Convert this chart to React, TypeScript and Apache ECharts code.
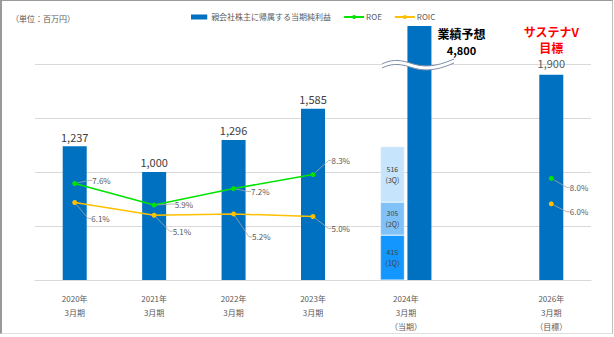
import React, { useEffect, useRef } from 'react';
import * as echarts from 'echarts';

// ---------- data ----------
const fiscalYears = ['2020年', '2021年', '2022年', '2023年', '2024年', '', '2026年'];
const periodSuffix = ['3月期', '3月期', '3月期', '3月期', '3月期', '', '3月期'];
const periodNotes = ['', '', '', '', '（当期）', '', '（目標）'];
const incomeName = '親会社株主に帰属する当期純利益';
const netIncome = [1237, 1000, 1296, 1585, null, null, 1900];
const forecastIncome = [null, null, null, null, 4800, null, null];
const quarterNames = ['1Q', '2Q', '3Q'];
const quarterTags = ['（1Q）', '(2Q)', '(3Q)'];
const q1Income = [null, null, null, null, 415, null, null];
const q2Income = [null, null, null, null, 305, null, null];
const q3Income = [null, null, null, null, 516, null, null];
const roe = [7.6, 5.9, 7.2, 8.3, null, null, 8.0];
const roic = [6.1, 5.1, 5.2, 5.0, null, null, 6.0];
const forecastTitle = '業績予想';
const targetTitle = ['サステナV', '目標'];
const unitNote = '（単位：百万円）';

const FONT = "'Noto Sans CJK JP', 'Noto Sans', sans-serif";
const BLUE = '#0070C0';
const QCOLORS = ['#1496FF', '#80C2F7', '#C6E5FC'];

const fmt = (v: number) => v.toLocaleString('en-US');
const m = (arr: (number | null)[]) => arr.map((v) => (v == null ? '-' : v));

let registered = false;
function registerShapes() {
  if (registered) return;
  registered = true;
  const fillD =
    'M0,6 C8,2 16,1 28,5 C40,9 52,10 72,1 L72,5 C52,14 40,13 28,9 C16,5 8,6 0,10 Z';
  const lineD =
    'M0,6 C8,2 16,1 28,5 C40,9 52,10 72,1 M0,10 C8,6 16,5 28,9 C40,13 52,14 72,5';
  echarts.graphic.registerShape('breakFill', echarts.graphic.extendPath(fillD, {}));
  echarts.graphic.registerShape('breakLines', echarts.graphic.extendPath(lineD, {}));
}

export default function App() {
  const ref = useRef<HTMLDivElement>(null);

  useEffect(() => {
    document.body.style.margin = '0';
    registerShapes();
    const chart = echarts.init(ref.current!, null, { renderer: 'svg' });

    const categories = fiscalYears.map((y, i) =>
      [y, periodSuffix[i], periodNotes[i]].filter((s) => s).join('\n')
    );
    const xData = categories.map((c, i) =>
      i === 4 ? { value: c, textStyle: { padding: [0, 0, 0, 27] } } : c
    );

    const roeOffsets = [
      [10, -3],
      [13, -1],
      [10, 3],
      [11, -14],
      [0, 0],
      [0, 0],
      [11, 9],
    ];
    const roicOffsets = [
      [9, 16],
      [11, 16],
      [11, 23],
      [11, 12],
      [0, 0],
      [0, 0],
      [11, 8],
    ];

    const pctLabel = {
      show: true,
      position: 'right',
      distance: 5,
      fontSize: 8,
      color: '#595959',
      fontFamily: FONT,
      formatter: (p: any) => `${Number(p.value).toFixed(1)}%`,
    };
    const labelLine = {
      show: true,
      length2: 3,
      lineStyle: { color: '#A6A6A6', width: 0.8 },
    };

    const quarterData = [q1Income, q2Income, q3Income];

    const option: any = {
      animation: false,
      textStyle: { fontFamily: FONT },
      title: {
        text: unitNote,
        left: 6,
        top: 9,
        textStyle: { fontSize: 8, fontWeight: 'normal', color: '#595959', fontFamily: FONT },
      },
      legend: {
        left: 186,
        top: 8,
        itemWidth: 20,
        itemHeight: 5,
        itemGap: 12,
        textStyle: { fontSize: 8, color: '#595959', fontFamily: FONT, padding: [0, 0, 0, -3] },
        data: [
          { name: incomeName, icon: 'path://M0,0H13V4H0Z' },
          { name: 'ROE' },
          { name: 'ROIC' },
        ],
      },
      grid: { left: 35, right: 23, top: 26, bottom: 57, containLabel: false },
      xAxis: [
        {
          type: 'category',
          data: xData,
          axisLine: { show: true, lineStyle: { color: '#D9D9D9' } },
          axisTick: { show: false },
          axisLabel: {
            margin: 11,
            fontSize: 8,
            lineHeight: 14,
            color: '#595959',
            fontFamily: FONT,
            interval: 0,
          },
        },
        {
          type: 'category',
          data: categories,
          show: false,
        },
      ],
      yAxis: [
        {
          type: 'value',
          min: 0,
          max: 2350,
          interval: 500,
          axisLabel: { show: false },
          axisLine: { show: false },
          axisTick: { show: false },
          splitLine: { show: true, showMaxLine: false, lineStyle: { color: '#D9D9D9', width: 1 } },
        },
        {
          type: 'value',
          min: 0,
          max: 20,
          show: false,
          splitLine: { show: false },
        },
      ],
      series: [
        {
          name: incomeName,
          type: 'bar',
          xAxisIndex: 0,
          yAxisIndex: 0,
          barWidth: 24,
          data: m(netIncome),
          itemStyle: { color: BLUE },
          label: {
            show: true,
            position: 'top',
            distance: 4,
            fontSize: 11,
            color: '#404040',
            fontFamily: FONT,
            formatter: (p: any) =>
              p.dataIndex === 6
                ? `{r|${targetTitle[0]}}\n{r|${targetTitle[1]}}\n{v|${fmt(p.value)}}`
                : fmt(p.value),
            rich: {
              r: { color: '#FF0000', fontWeight: 'bold', fontSize: 12, lineHeight: 16, fontFamily: FONT },
              v: { color: '#595959', fontSize: 11, lineHeight: 15, fontFamily: FONT },
            },
          },
          z: 2,
        },
        {
          name: 'spacer',
          type: 'bar',
          xAxisIndex: 1,
          yAxisIndex: 0,
          barWidth: 24,
          barGap: '12.5%',
          data: categories.map(() => '-'),
        },
        ...quarterNames.map((q, qi) => ({
          name: q,
          type: 'bar',
          stack: 'quarters',
          xAxisIndex: 1,
          yAxisIndex: 0,
          barWidth: 24,
          barGap: '12.5%',
          data: m(quarterData[qi]),
          itemStyle: { color: QCOLORS[qi], borderColor: 'rgba(255,255,255,0.7)', borderWidth: 0.5 },
          label: {
            show: true,
            position: 'inside',
            fontSize: 7,
            lineHeight: 11,
            color: '#404040',
            fontFamily: FONT,
            formatter: (p: any) => `${p.value}\n${quarterTags[qi]}`,
          },
        })),
        {
          name: incomeName,
          type: 'bar',
          xAxisIndex: 1,
          yAxisIndex: 0,
          barWidth: 24,
          barGap: '12.5%',
          clip: true,
          data: m(forecastIncome),
          itemStyle: { color: BLUE },
          label: {
            show: true,
            position: [54, -1],
            align: 'center',
            verticalAlign: 'top',
            color: '#000000',
            fontFamily: FONT,
            formatter: (p: any) => `{t|${forecastTitle}}\n{v|${fmt(p.value)}}`,
            rich: {
              t: { fontSize: 12, fontWeight: 'bold', lineHeight: 17, color: '#000', fontFamily: FONT },
              v: { fontSize: 11, fontWeight: 'bold', lineHeight: 15, color: '#000', fontFamily: FONT },
            },
          },
        },
        {
          name: 'ROE',
          type: 'line',
          xAxisIndex: 0,
          yAxisIndex: 1,
          data: m(roe),
          connectNulls: false,
          symbol: 'circle',
          symbolSize: 5,
          color: '#00E400',
          lineStyle: { color: '#00E400', width: 1.5 },
          itemStyle: { color: '#00E400' },
          label: pctLabel,
          labelLine,
          labelLayout: (p: any) => ({ dx: roeOffsets[p.dataIndex][0], dy: roeOffsets[p.dataIndex][1] }),
          z: 5,
        },
        {
          name: 'ROIC',
          type: 'line',
          xAxisIndex: 0,
          yAxisIndex: 1,
          data: m(roic),
          connectNulls: false,
          symbol: 'circle',
          symbolSize: 5,
          color: '#FFC000',
          lineStyle: { color: '#FFC000', width: 1.5 },
          itemStyle: { color: '#FFC000' },
          label: pctLabel,
          labelLine,
          labelLayout: (p: any) => ({ dx: roicOffsets[p.dataIndex][0], dy: roicOffsets[p.dataIndex][1] }),
          z: 5,
        },
      ],
      graphic: [
        { type: 'breakFill', x: 382, y: 58, z: 100, style: { fill: '#FFFFFF' } },
        {
          type: 'breakLines',
          x: 382,
          y: 58,
          z: 101,
          style: { fill: 'none', stroke: '#7F8FA9', lineWidth: 1 },
        },
      ],
    };

    chart.setOption(option);
    return () => chart.dispose();
  }, []);

  return (
    <div style={{ position: 'fixed', left: 0, top: 0, width: 614, height: 337, background: '#fff' }}>
      <div ref={ref} style={{ position: 'absolute', left: 0, top: 0, width: 614, height: 337 }} />
      <div
        style={{
          position: 'absolute',
          left: 0,
          top: 0,
          width: 613,
          height: 334,
          boxSizing: 'border-box',
          borderTop: '1px solid #9a9a9a',
          borderLeft: '2px solid #9a9a9a',
          borderRight: '1px solid #bfbfbf',
          borderBottom: '1px solid #e0e0e0',
          pointerEvents: 'none',
        }}
      />
    </div>
  );
}
